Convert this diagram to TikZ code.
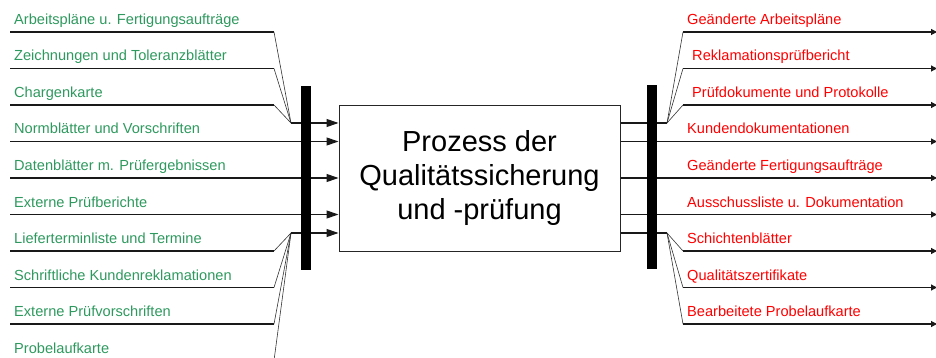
\documentclass[tikz,border=0pt]{standalone}
\usepackage{fontspec}
\setmainfont{Liberation Sans}
\usetikzlibrary{arrows.meta,positioning}
\definecolor{ingreen}{RGB}{46,153,94}
\definecolor{outred}{RGB}{255,0,0}
\begin{document}
\begin{tikzpicture}[x=1pt,y=-1pt,
  inlabel/.style={anchor=base west,inner sep=0pt,text=ingreen,font=\fontsize{14.6}{16}\selectfont},
  outlabel/.style={anchor=base west,inner sep=0pt,text=outred,font=\fontsize{14.6}{16}\selectfont},
  hline/.style={draw=black!90,line width=1.1pt},
  dline/.style={draw=black!80,line width=0.6pt},
  inarrow/.style={draw=black!90,line width=1.1pt,-{Triangle[length=12pt,width=8pt]}},
  outarrow/.style={draw=black!90,line width=1.1pt,-{Triangle[length=6pt,width=6pt]}},
  bar/.style={fill=black,draw=none,minimum width=10pt,inner sep=0pt},
  procbox/.style={draw=black!85,line width=1pt,fill=white,minimum width=281pt,minimum height=145pt,inner sep=0pt,align=center,font=\fontsize{29}{34}\selectfont}
]
\useasboundingbox (0,0) rectangle (936,358);

% process box
\node[procbox] (box) at (479.5,178.5) {Prozess der\\Qualitätssicherung\\und -prüfung};

% bars
\node[bar,minimum height=184pt] (lbar) at (306,178) {};
\node[bar,minimum height=184pt] (rbar) at (652,177) {};

% left coordinates
\coordinate (ljt) at (291,123);
\coordinate (ljb) at (291,233);
\foreach \i/\y in {1/32,2/68.5,3/105,4/141.5,5/178,6/214.5,7/251,8/287.5,9/324,10/360.5}{
  \coordinate (ls\i) at (10,\y);
  \coordinate (le\i) at (274,\y);
}
% right coordinates
\coordinate (rjt) at (667,123);
\coordinate (rjb) at (667,233);
\foreach \i/\y in {1/32,2/68.5,3/105,4/141.5,5/178,6/214.5,7/251,8/287.5,9/324}{
  \coordinate (rs\i) at (683,\y);
  \coordinate (re\i) at (937,\y);
}

% left labels
\node[inlabel] (i1) at (14,24.5) {Arbeitspläne u. Fertigungsaufträge};
\node[inlabel] (i2) at (14,61) {Zeichnungen und Toleranzblätter};
\node[inlabel] (i3) at (14,97.5) {Chargenkarte};
\node[inlabel] (i4) at (14,134) {Normblätter und Vorschriften};
\node[inlabel] (i5) at (14,170.5) {Datenblätter m. Prüfergebnissen};
\node[inlabel] (i6) at (14,207) {Externe Prüfberichte};
\node[inlabel] (i7) at (14,243.5) {Lieferterminliste und Termine};
\node[inlabel] (i8) at (14,280) {Schriftliche Kundenreklamationen};
\node[inlabel] (i9) at (14,316.5) {Externe Prüfvorschriften};
\node[inlabel] (i10) at (14,353) {Probelaufkarte};

% right labels
\node[outlabel] (o1) at (687,24.5) {Geänderte Arbeitspläne};
\node[outlabel] (o2) at (692,61) {Reklamationsprüfbericht};
\node[outlabel] (o3) at (692,97.5) {Prüfdokumente und Protokolle};
\node[outlabel] (o4) at (687,134) {Kundendokumentationen};
\node[outlabel] (o5) at (687,170.5) {Geänderte Fertigungsaufträge};
\node[outlabel] (o6) at (687,207) {Ausschussliste u. Dokumentation};
\node[outlabel] (o7) at (687,243.5) {Schichtenblätter};
\node[outlabel] (o8) at (687,280) {Qualitätszertifikate};
\node[outlabel] (o9) at (687,316.5) {Bearbeitete Probelaufkarte};

% left merging lines (top group)
\foreach \i in {1,2,3}{
  \draw[hline] (ls\i) -- (le\i);
  \draw[dline] (le\i) -- (ljt);
}
% left merging lines (bottom group)
\foreach \i in {7,8,9,10}{
  \draw[hline] (ls\i) -- (le\i);
  \draw[dline] (le\i) -- (ljb);
}
% arrows into box
\draw[inarrow] (ljt) -- (ljt -| box.west);
\draw[inarrow] (ljb) -- (ljb -| box.west);
\foreach \i in {4,5,6}{
  \draw[inarrow] (ls\i) -- (ls\i -| box.west);
}

% outputs
\draw[hline] (rjt -| box.east) -- (rjt);
\draw[hline] (rjb -| box.east) -- (rjb);
\foreach \i in {1,2,3}{
  \draw[dline] (rjt) -- (rs\i);
  \draw[outarrow] (rs\i) -- (re\i);
}
\foreach \i in {7,8,9}{
  \draw[dline] (rjb) -- (rs\i);
  \draw[outarrow] (rs\i) -- (re\i);
}
\foreach \i in {4,5,6}{
  \draw[outarrow] (re\i -| box.east) -- (re\i);
}

% bars on top
\node[bar,minimum height=184pt] at (lbar) {};
\node[bar,minimum height=184pt] at (rbar) {};
\end{tikzpicture}
\end{document}
